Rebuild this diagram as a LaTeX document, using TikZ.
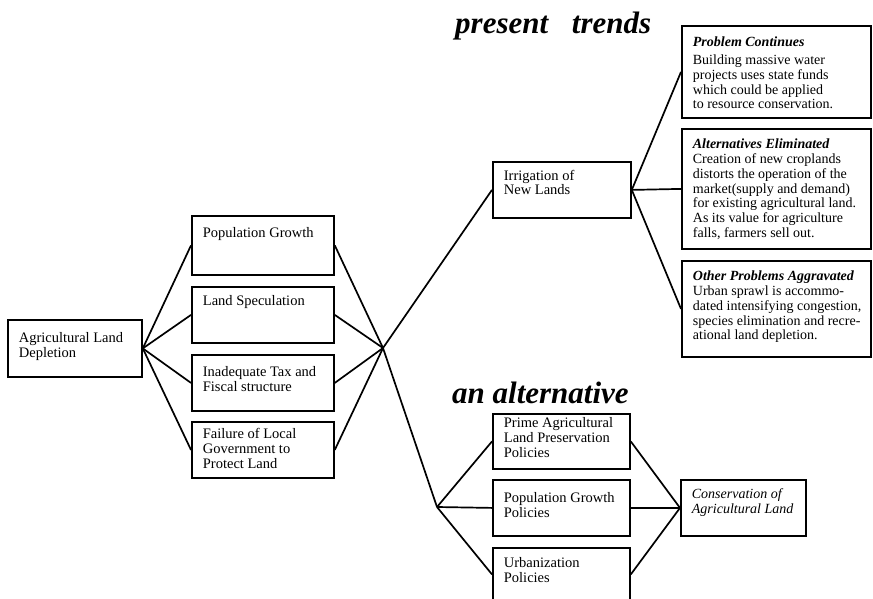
\documentclass[tikz,border=0pt]{standalone}
\usepackage{fontspec}
\setmainfont{Liberation Serif}
\usetikzlibrary{positioning}
\tikzset{
  box/.style={draw, line width=1.8pt, anchor=north west, inner sep=0pt,
    font=\fontsize{14.5}{14.8}\selectfont},
  note/.style={box, font=\fontsize{14}{14.8}\selectfont},
  link/.style={line width=1.7pt},
  heading/.style={font=\fontsize{31}{31}\selectfont\bfseries\itshape,
    inner sep=0pt, anchor=base west},
}
% box text: [top pad]{width}{height}{lines}
\newcommand{\bx}[4][10]{\hspace*{11pt}%
  \parbox[b][#3pt][t]{\dimexpr#2pt-11pt\relax}{\raggedright\vspace*{#1pt}#4}}
\newcommand{\hd}[1]{\textbf{\textit{#1}}}

\begin{document}
\begin{tikzpicture}[x=1pt, y=-1pt]
\useasboundingbox (0,0) rectangle (873,598);

% ================================================= causes
\node[box] (ald)  at (7,319)   {\bx[12.5]{134}{57}{Agricultural Land\\Depletion}};
\node[box] (pg)   at (191,215) {\bx[11.5]{142}{59}{Population Growth}};
\node[box] (ls)   at (191,286) {\bx[8.5]{142}{56}{Land Speculation}};
\node[box] (tax)  at (191,354) {\bx[11.5]{142}{56}{Inadequate Tax and\\Fiscal structure}};
\node[box] (fail) at (191,421) {\bx[6.5]{142}{56}{Failure of Local\\Government to\\Protect Land}};
\coordinate (fork)  at (383,348);
\coordinate (split) at (437,507);
\foreach \b in {pg,ls,tax,fail} {
  \draw[link] (ald.east) -- (\b.west);
  \draw[link] (\b.east) -- (fork);
}

% ================================================= present trends
\node[heading] (trends) at (455,33) {present\hspace{16pt} trends};
\node[box] (irr) at (492,161) {\bx[8]{138}{56}{Irrigation of\\New Lands}};
\node[note] (pc) at (681,25) {\bx[11]{189}{92}{\hd{Problem Continues}\\[3pt]
  Building massive water\\projects uses state funds\\which could be applied\\
  to resource conservation.}};
\node[note] (ae) at (681,128) {\bx[10]{189}{120}{\hd{Alternatives Eliminated}\\
  Creation of new croplands\\distorts the operation of the\\
  market(supply and demand)\\for existing agricultural land.\\
  As its value for agriculture\\falls, farmers sell out.}};
\node[note] (op) at (681,260) {\bx[10]{189}{96}{\hd{Other Problems Aggravated}\\
  Urban sprawl is accommo-\\dated intensifying congestion,\\
  species elimination and recre-\\ational land depletion.}};
\draw[link] (fork) -- (irr.west);
\foreach \b in {pc,ae,op} \draw[link] (irr.east) -- (\b.west);

% ================================================= an alternative
\node[heading] (alt) at (452,403) {an alternative};
\node[box] (pr)  at (492,413) {\bx[3.5]{137}{55}{Prime Agricultural\\Land Preservation\\Policies}};
\node[box] (pgp) at (492,479) {\bx[12.5]{137}{56}{Population Growth\\Policies}};
\node[box] (urb) at (492,547) {\bx[9.5]{137}{53}{Urbanization\\Policies}};
\node[note] (cons) at (680,479) {\bx[9]{125}{56}{\textit{Conservation of\\Agricultural Land}}};
\draw[link] (fork) -- (split);
\foreach \b in {pr,pgp,urb} {
  \draw[link] (split) -- (\b.west);
  \draw[link] (\b.east) -- (cons.west);
}
\end{tikzpicture}
\end{document}
